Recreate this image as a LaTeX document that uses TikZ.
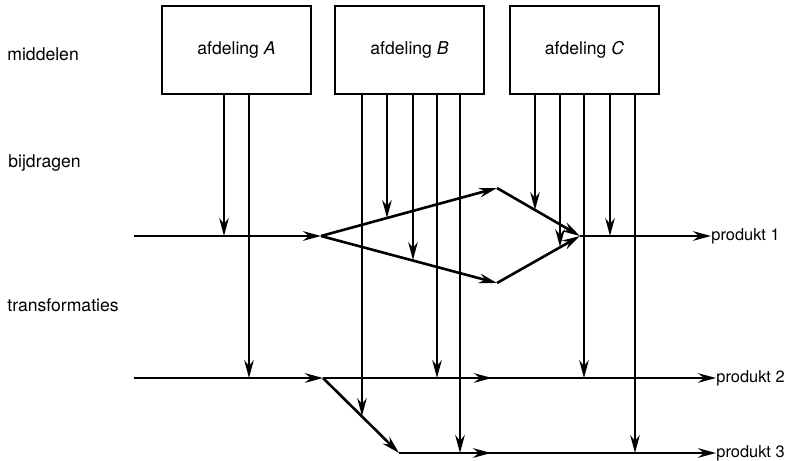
\documentclass[tikz,border=0pt]{standalone}
\usepackage{fontspec}
\setmainfont{TeX Gyre Heros}
\usetikzlibrary{arrows.meta}

\begin{document}
\begin{tikzpicture}[
      x=0.5pt, y=-0.5pt,
      font=\fontsize{8.8}{10}\selectfont,
      afd/.style={draw, line width=1.2pt, minimum width=74.5pt, minimum height=44pt, inner sep=0pt},
      lbl/.style={anchor=west, inner sep=0pt},
      prod/.style={lbl, font=\fontsize{8.2}{10}\selectfont},
      tip/.style={-{Stealth[length=9pt, width=4.8pt, inset=3pt]}},
      feed/.style={tip, line width=0.85pt},
      flow/.style={tip, line width=1.3pt}
   ]
      \useasboundingbox (0,0) rectangle (788,461);

      \node[lbl] (mid) at (7,54) {middelen};
      \node[lbl] (bij) at (8,163) {bijdragen};
      \node[lbl] (tra) at (7,305) {transformaties};

      \node[afd] (A) at (236.5,50) {afdeling \textit{A}};
      \node[afd] (B) at (409.5,50) {afdeling \textit{B}};
      \node[afd] (C) at (584.5,50) {afdeling \textit{C}};

      \node[prod] (P1) at (711,236) {produkt 1};
      \node[prod] (P2) at (716,378) {produkt 2};
      \node[prod] (P3) at (716,453) {produkt 3};

      \coordinate (in1) at (134,236);
      \coordinate (in2) at (134,378);
      \coordinate (L) at (321,236);
      \coordinate (T) at (497,188);
      \coordinate (D) at (497,283);
      \coordinate (R) at (580,236);
      \coordinate (S) at (323,378);
      \coordinate (E) at (399,453);
      \coordinate (m2) at (492,378);
      \coordinate (m3) at (491,453);

      % produkt 1
      \draw[flow] (in1) -- (L);
      \draw[flow] (L) -- (T);
      \draw[flow] (L) -- (D);
      \draw[flow] (T) -- (R);
      \draw[flow] (D) -- (R);
      \draw[flow] (R) -- (P1.west);
      % produkt 2 en 3
      \draw[flow] (in2) -- (S);
      \draw[flow] (S) -- (P2.west);
      \draw[flow] (S) -- (m2);
      \draw[flow] (S) -- (E);
      \draw[flow] (E) -- (P3.west);
      \draw[flow] (E) -- (m3);

      \foreach \n/\x/\y in {a1/224/236, a2/249/378,
            b1/362/416, b2/387/218, b3/413/260, b4/437/378, b5/460/453,
            c1/535/210, c2/560/247, c3/584/378, c4/610/236, c5/635/453}
         \coordinate (\n) at (\x,\y);

      \foreach \k in {a1,a2}
         \draw[feed] (A.south -| \k) -- (\k);
      \foreach \k in {b1,b2,b3,b4}
         \draw[feed] (B.south -| \k) -- (\k);
      \draw[flow] (B.south -| b5) -- (b5);
      \foreach \k in {c1,c2,c3,c4,c5}
         \draw[feed] (C.south -| \k) -- (\k);
   \end{tikzpicture}
\end{document}
